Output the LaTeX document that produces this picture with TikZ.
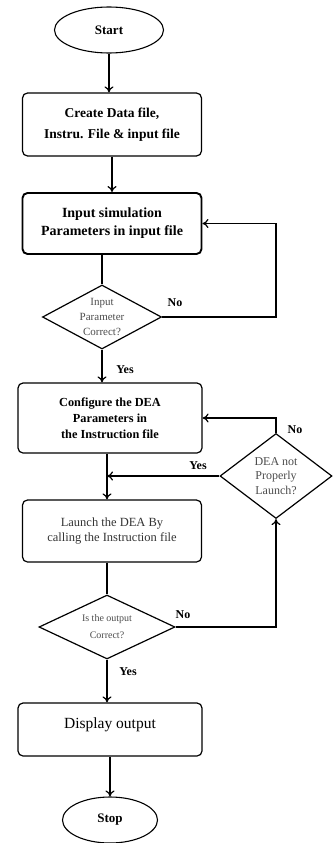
\documentclass[tikz,border=0pt]{standalone}
\usepackage{fontspec}
\setmainfont{Liberation Serif}
\usetikzlibrary{shapes.geometric,arrows.meta}

\begin{document}
\begin{tikzpicture}[x = 1pt, y = -1pt,
	>={To[length=6pt,width=9pt]},
	arr/.style = {->, line width=1.2pt},
	term/.style = {ellipse, draw, line width=1.1pt, inner sep=0pt, font=\bfseries\fontsize{13}{14}\selectfont},
	procbox/.style = {rectangle, rounded corners=5pt, draw, line width=1.2pt, align=center, inner sep=2pt},
	decide/.style = {diamond, draw, line width=1.2pt, inner sep=0pt, align=center, text=black!70},
	lbl/.style = {font=\bfseries\fontsize{12}{14}\selectfont}]
	\useasboundingbox (0,0) rectangle (332,843);

	\node[term, minimum width=109pt, minimum height=46pt] (start) at (109,30) {Start};
	\node[procbox, minimum width=179pt, minimum height=63pt, font=\bfseries\fontsize{13.5}{21}\selectfont] (create) at (112,124.5)
		{Create Data file,\\Instru. File \& input file};
	\node[procbox, line width=1.9pt, minimum width=179pt, minimum height=61pt, font=\bfseries\fontsize{14}{18}\selectfont] (input) at (112,223.5)
		{Input simulation\\Parameters in input file};
	\node[decide, minimum width=119pt, minimum height=64pt, aspect=1.86, font=\fontsize{11}{15}\selectfont] (chk1) at (102,317)
		{Input\\Parameter\\Correct?};
	\node[procbox, minimum width=184pt, minimum height=70pt, font=\bfseries\fontsize{12.3}{16}\selectfont] (config) at (110,418)
		{Configure the DEA\\Parameters in\\the Instruction file};
	\node[decide, minimum width=112pt, minimum height=85pt, aspect=1.32, font=\fontsize{12}{14.5}\selectfont] (chk2) at (276,476)
		{DEA not\\Properly\\Launch?};
	\node[procbox, minimum width=179pt, minimum height=62pt, text=black!80, font=\fontsize{12.5}{15.5}\selectfont] (launch) at (112,531)
		{Launch the DEA By\\calling the Instruction file};
	\node[decide, minimum width=136pt, minimum height=64pt, aspect=2.1, font=\fontsize{10}{17}\selectfont] (chk3) at (107,627)
		{Is the output\\Correct?};
	\node[procbox, minimum width=184pt, minimum height=53pt, text depth=13pt, font=\fontsize{15.5}{18}\selectfont] (display) at (110,729.5)
		{Display output};
	\node[term, minimum width=95pt, minimum height=46pt] (stop) at (110,820) {Stop};

	\draw[arr] (start.south) -- (start.south |- create.north);
	\draw[arr] (create.south) -- (input.north);
	\draw[line width=1.2pt] (chk1.north |- input.south) -- (chk1.north);
	\draw[arr] (chk1.east) -| (chk2.north |- input.east) -- (input.east);
	\draw[arr] (chk1.south) -- (chk1.south |- config.north);
	\draw[arr] (chk3 |- config.south) -- (chk3 |- launch.north);
	\draw[arr] (chk2.west) -- (chk2.west -| chk3);
	\draw[arr] (chk2.north) |- (config.east);
	\draw[line width=1.2pt] (chk3 |- launch.south) -- (chk3.north);
	\draw[arr] (chk3.east) -| (chk2.south);
	\draw[arr] (chk3.south) -- (chk3.south |- display.north);
	\draw[arr] (display.south) -- (display.south |- stop.north);

	\node[lbl] (no1) at (175,303) {No};
	\node[lbl] (yes1) at (125,370) {Yes};
	\node[lbl] (yes2) at (198,466) {Yes};
	\node[lbl] (no2) at (295,430) {No};
	\node[lbl] (no3) at (183,615) {No};
	\node[lbl] (yes3) at (128,672) {Yes};
\end{tikzpicture}
\end{document}
